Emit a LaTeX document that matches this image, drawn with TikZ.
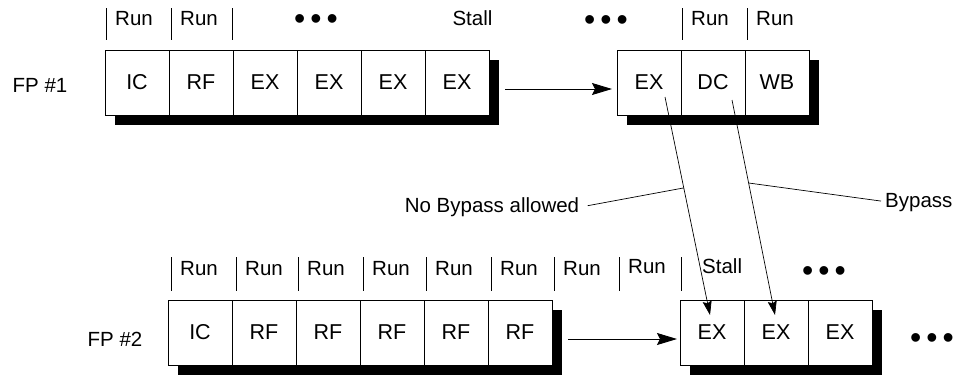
\documentclass[tikz,border=0pt]{standalone}
\usepackage{fontspec}
\setmainfont{Liberation Sans}
\usetikzlibrary{arrows.meta,positioning,calc,backgrounds}
\newcommand{\dotrow}{{\fontsize{32}{32}\selectfont\textbullet\hspace{5pt}\textbullet\hspace{5pt}\textbullet}}

\begin{document}
\begin{tikzpicture}[
        x=1pt, y=-1pt,
        font=\fontsize{20.5}{24}\selectfont,
        stage/.style={draw, line width=0.8pt, fill=white, minimum width=64pt, minimum height=65pt, inner sep=0pt, outer sep=0pt, font=\fontsize{21.5}{25}\selectfont},
        shade/.style={fill=black},
        tick/.style={line width=0.8pt},
        runlbl/.style={anchor=base west, inner sep=1pt},
        arrow/.style={-{Stealth[length=20pt, width=12pt, inset=3pt]}, line width=0.9pt},
        bypass/.style={-{Stealth[length=14pt, width=9pt, inset=2pt]}, line width=0.7pt},
        leader/.style={line width=0.7pt}
    ]
        \useasboundingbox (0,0) rectangle (955,375);

        % FP #1
        \node (fp1) at (40,85) {FP \#1};
        \node[stage] (ic1) at (137,82.5) {IC};
        \node[stage, right=0pt of ic1] (rf1) {RF};
        \node[stage, right=0pt of rf1] (ex1a) {EX};
        \node[stage, right=0pt of ex1a] (ex1b) {EX};
        \node[stage, right=0pt of ex1b] (ex1c) {EX};
        \node[stage, right=0pt of ex1c] (ex1d) {EX};
        \node[stage] (ex1e) at (649,82.5) {EX};
        \node[stage, right=0pt of ex1e] (dc1) {DC};
        \node[stage, right=0pt of dc1] (wb1) {WB};

        % FP #2
        \node[anchor=base] (fp2) at (115,346) {FP \#2};
        \node[stage] (ic2) at (200,332.5) {IC};
        \node[stage, right=0pt of ic2] (rf2a) {RF};
        \node[stage, right=0pt of rf2a] (rf2b) {RF};
        \node[stage, right=0pt of rf2b] (rf2c) {RF};
        \node[stage, right=0pt of rf2c] (rf2d) {RF};
        \node[stage, right=0pt of rf2d] (rf2e) {RF};
        \node[stage] (ex2a) at (712,332.5) {EX};
        \node[stage, right=0pt of ex2a] (ex2b) {EX};
        \node[stage, right=0pt of ex2b] (ex2c) {EX};

        % shadows
        \begin{scope}[on background layer]
            \fill[shade] ($(ic1.north west)+(10,10)$) rectangle ($(ex1d.south east)+(10,10)$);
            \fill[shade] ($(ex1e.north west)+(10,10)$) rectangle ($(wb1.south east)+(10,10)$);
            \fill[shade] ($(ic2.north west)+(10,10)$) rectangle ($(rf2e.south east)+(10,10)$);
            \fill[shade] ($(ex2a.north west)+(10,10)$) rectangle ($(ex2c.south east)+(10,10)$);
        \end{scope}

        % pipeline state labels
        \foreach \tx in {106,171,232,682,747} \draw[tick] (\tx,8) -- (\tx,40);
        \foreach \tx [count=\i] in {106,171,682,747} \node[runlbl] (runa\i) at (\tx+8,25) {Run};
        \node[anchor=base] (stalla) at (472.5,25) {Stall};
        \node[anchor=base] (dotsa) at (316,29.5) {\dotrow};
        \node[anchor=base] (dotsb) at (606,30.5) {\dotrow};

        \foreach \tx in {171,236,298,363,426,491,554,619,681} \draw[tick] (\tx,257) -- (\tx,291);
        \foreach \tx [count=\i] in {171,236,298,363,426,491,554} \node[runlbl] (runb\i) at (\tx+8,275) {Run};
        \node[runlbl] (runb8) at (627,273) {Run};
        \node[runlbl] (stallb) at (701,273) {Stall};
        \node[anchor=base] (dotsc) at (824,281) {\dotrow};
        \node[anchor=base] (dotsd) at (932,348) {\dotrow};

        % flow arrows
        \draw[arrow] ($(ex1d.east)+(16,6.5)$) -- ($(ex1e.west)+(-5,6.5)$);
        \draw[arrow] ($(rf2e.east)+(16,6.5)$) -- ($(ex2a.west)+(-3,6.5)$);

        % bypass paths
        \draw[bypass] ($(ex1e.center)+(16,14.5)$) -- coordinate[pos=0.417] (nbpt) ($(ex2a.center)+(-2,-17.5)$);
        \draw[bypass] ($(dc1.center)+(19,17.5)$) -- coordinate[pos=0.386] (bppt) ($(ex2b.center)+(-1,-17.5)$);

        \node[anchor=base] (nobypass) at (492,212) {No Bypass allowed};
        \node[anchor=base west, inner sep=2pt] (bypasslbl) at (883,207) {Bypass};
        \draw[leader] ($(nobypass.east)+(5,-1)$) -- (nbpt);
        \draw[leader] ($(bypasslbl.west)+(-2,-1)$) -- (bppt);
    \end{tikzpicture}
\end{document}
